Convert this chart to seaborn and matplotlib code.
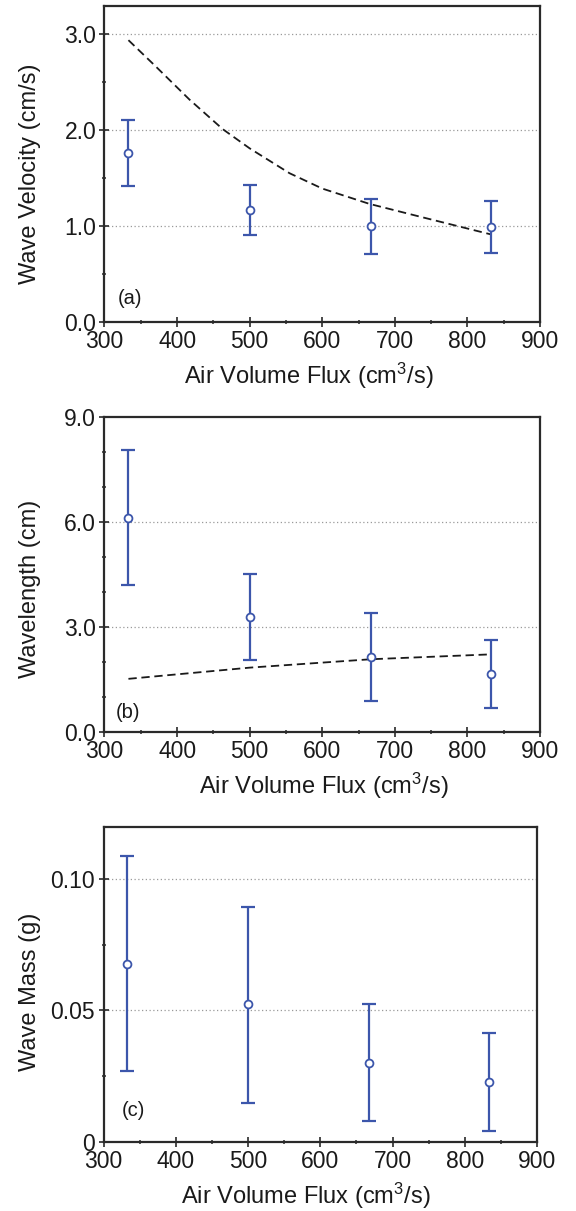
import matplotlib
matplotlib.use("Agg")
import matplotlib.pyplot as plt
import seaborn as sns
import numpy as np
import pandas as pd
from matplotlib.ticker import MultipleLocator, FixedLocator

# ---------------- data ----------------
flux = [333, 500, 667, 833]

vel = [1.76, 1.17, 1.00, 0.99]
vel_lo = [1.42, 0.91, 0.71, 0.72]
vel_hi = [2.11, 1.43, 1.28, 1.26]
vel_model_x = [333, 370, 417, 463, 500, 555, 600, 665, 738, 833]
vel_model_y = [2.94, 2.67, 2.32, 2.01, 1.81, 1.55, 1.39, 1.23, 1.09, 0.91]

wl = [6.11, 3.27, 2.13, 1.65]
wl_lo = [4.19, 2.05, 0.88, 0.68]
wl_hi = [8.04, 4.50, 3.38, 2.62]
wl_model_x = [333, 500, 667, 833]
wl_model_y = [1.51, 1.83, 2.07, 2.21]

mass = [0.0679, 0.0523, 0.0301, 0.0228]
mass_lo = [0.0270, 0.0149, 0.0079, 0.0042]
mass_hi = [0.1088, 0.0895, 0.0524, 0.0416]

xticks = [300, 400, 500, 600, 700, 800, 900]
yticks_a = [0.0, 1.0, 2.0, 3.0]
ylabels_a = ["0.0", "1.0", "2.0", "3.0"]
yticks_b = [0.0, 3.0, 6.0, 9.0]
ylabels_b = ["0.0", "3.0", "6.0", "9.0"]
yticks_c = [0.0, 0.05, 0.10]
ylabels_c = ["0", "0.05", "0.10"]

xlabel = r"Air Volume Flux (cm$^{3}$/s)"
ylabel_a = "Wave Velocity (cm/s)"
ylabel_b = "Wavelength (cm)"
ylabel_c = "Wave Mass (g)"

# ---------------- style ----------------
sns.set_theme(style="ticks")
plt.rcParams["font.family"] = ["Liberation Sans", "DejaVu Sans"]
plt.rcParams["mathtext.fontset"] = "custom"
plt.rcParams["mathtext.rm"] = "Liberation Sans"
plt.rcParams["mathtext.default"] = "regular"

BLUE = "#3c56ab"
SPINE = "#2a2a2a"

fig = plt.figure(figsize=(5.76, 12.11), dpi=100)
pos = [
    [0.1814, 0.7344, 0.7561, 0.2609],
    [0.1814, 0.3958, 0.7561, 0.2601],
    [0.1797, 0.0572, 0.7526, 0.2601],
]
axes = [fig.add_axes(p) for p in pos]

panels = [
    dict(y=vel, lo=vel_lo, hi=vel_hi, mx=vel_model_x, my=vel_model_y,
         ylim=(0, 3.3), yt=yticks_a, yl=ylabels_a, minor=0.5,
         ylab=ylabel_a, tag="(a)", tagpos=(0.031, 0.043), ylc=0.467, xlc=0.47),
    dict(y=wl, lo=wl_lo, hi=wl_hi, mx=wl_model_x, my=wl_model_y,
         ylim=(0, 9.0), yt=yticks_b, yl=ylabels_b, minor=1.0,
         ylab=ylabel_b, tag="(b)", tagpos=(0.026, 0.031), ylc=0.454, xlc=0.504),
    dict(y=mass, lo=mass_lo, hi=mass_hi, mx=None, my=None,
         ylim=(0, 0.12), yt=yticks_c, yl=ylabels_c, minor=0.025,
         ylab=ylabel_c, tag="(c)", tagpos=(0.042, 0.069), ylc=0.476, xlc=0.466),
]

for ax, p in zip(axes, panels):
    df = pd.DataFrame({"flux": flux, "val": p["y"], "lo": p["lo"], "hi": p["hi"]})
    # grid lines at major ticks
    for yv in p["yt"][1:]:
        if yv < p["ylim"][1] - 1e-9:
            ax.axhline(yv, color="#9a9a9a", lw=0.9, ls=(0, (1, 2)), zorder=0)
    if p["mx"] is not None:
        dm = pd.DataFrame({"x": p["mx"], "y": p["my"]})
        sns.lineplot(data=dm, x="x", y="y", ax=ax, color="#1a1a1a", lw=1.3,
                     dashes=False, zorder=2, estimator=None, sort=False)
        ax.lines[-1].set_linestyle((0, (4.6, 2.6)))
    yerr = np.vstack([df["val"] - df["lo"], df["hi"] - df["val"]])
    ax.errorbar(df["flux"], df["val"], yerr=yerr, fmt="none", ecolor=BLUE,
                elinewidth=1.6, capsize=5.2, capthick=1.6, zorder=3)
    sns.scatterplot(data=df, x="flux", y="val", ax=ax, marker="o", s=32,
                    facecolor="white", edgecolor=BLUE, linewidth=1.3, zorder=4)

    ax.set_xlim(300, 900)
    ax.set_ylim(*p["ylim"])
    ax.xaxis.set_major_locator(FixedLocator(xticks))
    ax.set_xticklabels([str(t) for t in xticks])
    ax.xaxis.set_minor_locator(MultipleLocator(50))
    ax.yaxis.set_major_locator(FixedLocator(p["yt"]))
    ax.set_yticklabels(p["yl"])
    ax.yaxis.set_minor_locator(MultipleLocator(p["minor"]))
    ax.tick_params(which="major", direction="inout", length=7, width=1.2,
                   color=SPINE, labelsize=16.5, pad=2.5, labelcolor="#1a1a1a")
    ax.tick_params(which="minor", direction="inout", length=3.5, width=1.1,
                   color=SPINE)
    ax.tick_params(axis="x", which="both", top=False)
    ax.tick_params(axis="y", which="both", right=False)
    for s in ax.spines.values():
        s.set_visible(True)
        s.set_linewidth(1.6)
        s.set_color(SPINE)
    ax.set_xlabel(xlabel, fontsize=17, color="#1a1a1a")
    ax.set_ylabel(p["ylab"], fontsize=17, color="#1a1a1a")
    ax.xaxis.set_label_coords(p["xlc"], -0.125)
    ax.yaxis.set_label_coords(-0.145, p["ylc"])
    ax.text(p["tagpos"][0], p["tagpos"][1], p["tag"], transform=ax.transAxes,
            fontsize=14.5, ha="left", va="bottom", color="#1a1a1a")
    ax.set_facecolor("white")

fig.savefig("out.png", dpi=100, facecolor="white")
